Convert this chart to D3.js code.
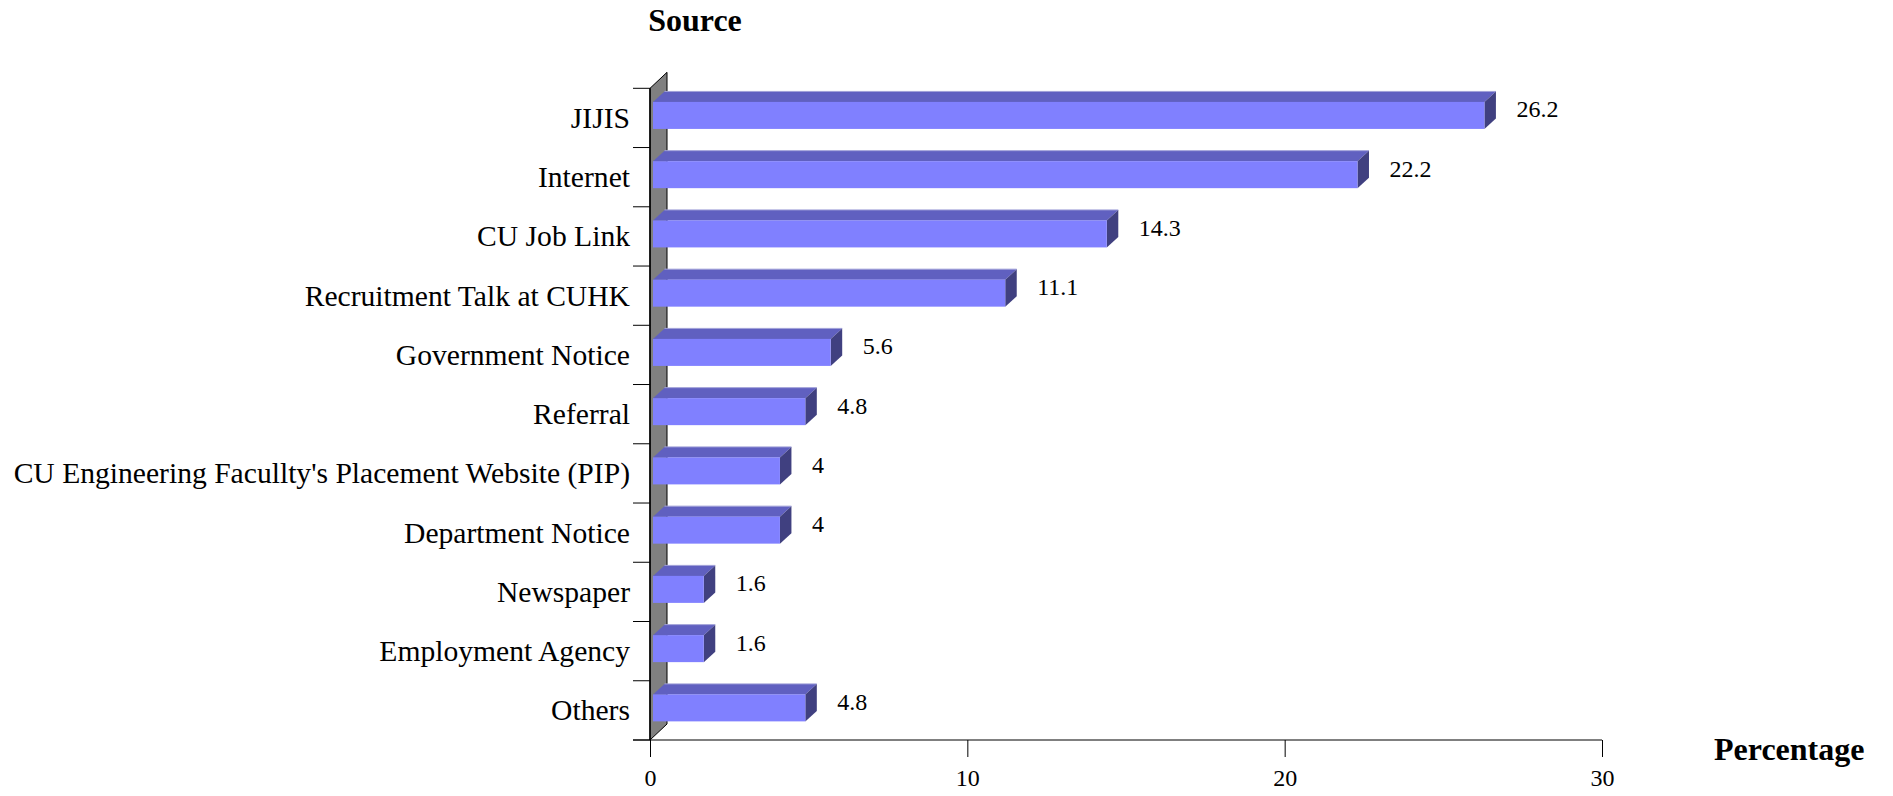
<!DOCTYPE html>
<html>
<head>
<meta charset="utf-8">
<script src="https://cdn.jsdelivr.net/npm/d3@7"></script>
<style>
html,body{margin:0;padding:0;background:#fff;}
svg{display:block;}
text{font-family:"Liberation Serif","Times New Roman",serif;fill:#000;}
</style>
</head>
<body>
<svg id="chart" width="1893" height="796"></svg>
<script>
const categories = ["JIJIS","Internet","CU Job Link","Recruitment Talk at CUHK","Government Notice","Referral","CU Engineering Facullty's Placement Website (PIP)","Department Notice","Newspaper","Employment Agency","Others"];
const values = [26.2,22.2,14.3,11.1,5.6,4.8,4,4,1.6,1.6,4.8];
const valueLabels = ["26.2","22.2","14.3","11.1","5.6","4.8","4","4","1.6","1.6","4.8"];
const xTicks = [0,10,20,30];
const xTitle = "Percentage";
const yTitle = "Source";

const svg = d3.select("#chart");
const x = d3.scaleLinear().domain([0,30]).range([650,1602]);
const y = d3.scaleBand().domain(categories).range([88.3,740]).padding(0);

const wallDx = 17, wallDy = 16;
const barDx = 11.5, barDy = 10.5, barH = 27, barOff = 3, barYOff = -2.5;

// wall
const y0 = y.range()[0], y1 = y.range()[1];
svg.append("polygon")
  .attr("points", [[x(0),y0],[x(0)+wallDx,y0-wallDy],[x(0)+wallDx,y1-wallDy],[x(0),y1]].map(p=>p.join(",")).join(" "))
  .attr("fill","#808080").attr("stroke","#000").attr("stroke-width",1);

// left ticks
const tickYs = categories.map(c=>y(c)).concat([y1]);
svg.selectAll(".ltick").data(tickYs).enter().append("line")
  .attr("x1",633).attr("x2",x(0)).attr("y1",d=>d).attr("y2",d=>d)
  .attr("stroke","#000").attr("stroke-width",1);
svg.append("line").attr("x1",x(0)).attr("x2",x(0)).attr("y1",y0).attr("y2",y1).attr("stroke","#000").attr("stroke-width",1.5);

// x axis
const xAxis = d3.axisBottom(x).tickValues(xTicks).tickSize(17).tickSizeOuter(0).tickFormat(d3.format("d"));
const gx = svg.append("g").attr("transform",`translate(0,${y1})`).call(xAxis);
gx.select(".domain").remove();
gx.selectAll("line").attr("stroke","#000");
gx.selectAll("text").attr("font-size","24px").attr("dy",null).attr("y",46)
  .style("font-family",'"Liberation Serif","Times New Roman",serif');
svg.append("line").attr("x1",633).attr("x2",x(30)).attr("y1",y1).attr("y2",y1).attr("stroke","#000").attr("stroke-width",1);

// bars
const bars = svg.selectAll(".bar").data(categories.map((c,i)=>({c,v:values[i],l:valueLabels[i]}))).enter().append("g");
bars.each(function(d){
  const g = d3.select(this);
  const cy = y(d.c) + y.bandwidth()/2 + barYOff;
  const top = cy - barH/2, bot = cy + barH/2;
  const xa = x(0) + barOff, xb = x(d.v) + barOff;
  g.append("polygon")
    .attr("points",[[xa,top],[xb,top],[xb+barDx,top-barDy],[xa+barDx,top-barDy]].map(p=>p.join(",")).join(" "))
    .attr("fill","#6060C0");
  g.append("line").attr("x1",xa+barDx).attr("x2",xb+barDx).attr("y1",top-barDy).attr("y2",top-barDy)
    .attr("stroke","#A0A0D8").attr("stroke-width",1);
  g.append("polygon")
    .attr("points",[[xb,top],[xb+barDx,top-barDy],[xb+barDx,bot-barDy],[xb,bot]].map(p=>p.join(",")).join(" "))
    .attr("fill","#404080");
  g.append("rect").attr("x",xa).attr("y",top).attr("width",xb-xa).attr("height",barH).attr("fill","#8080FF");
  g.append("text").attr("x",xb+32).attr("y",y(d.c)+y.bandwidth()/2-0.5)
    .attr("font-size","24px").text(d.l);
});

// category labels
svg.selectAll(".clabel").data(categories).enter().append("text")
  .attr("x",630).attr("y",d=>y(d)+y.bandwidth()/2+10)
  .attr("text-anchor","end").attr("font-size","29.6px").text(d=>d);

// titles
svg.append("text").attr("x",695).attr("y",31).attr("text-anchor","middle")
  .attr("font-size","32px").attr("font-weight","bold").text(yTitle);
svg.append("text").attr("x",1714).attr("y",760)
  .attr("font-size","32px").attr("font-weight","bold").text(xTitle);
</script>
</body>
</html>
